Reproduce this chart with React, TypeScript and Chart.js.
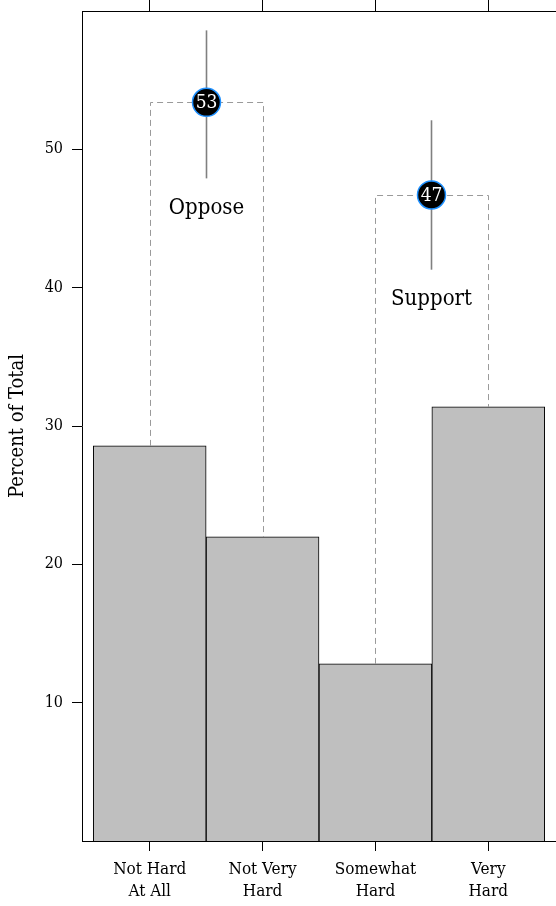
import React, { useEffect, useRef } from "react";
import { Chart, registerables } from "chart.js";

Chart.register(...registerables);

// Response categories and the share of respondents in each (percent)
const categories: string[][] = [
  ["Not Hard", "At All"],
  ["Not Very", "Hard"],
  ["Somewhat", "Hard"],
  ["Very", "Hard"],
];
const percentValues = [28.56, 21.98, 12.8, 31.38];

// Grouped summary: which categories each group spans, its estimate and interval
const groupLabels = ["Oppose", "Support"];
const groupSpans = [
  [0, 1],
  [2, 3],
];
const groupValues = [53.4, 46.7];
const groupLow = [47.9, 41.3];
const groupHigh = [58.6, 52.1];

const yTicks = [10, 20, 30, 40, 50];
const xTickPositions = [1, 2, 3, 4];

const FONT = "'DejaVu Serif Condensed', 'DejaVu Serif', serif";

const groupPlugin = {
  id: "groupSummary",
  afterDatasetsDraw(chart: any) {
    const ctx = chart.ctx;
    const x = chart.scales.x;
    const y = chart.scales.y;
    ctx.save();
    groupSpans.forEach((span, g) => {
      const [a, b] = span;
      const xL = Math.round(x.getPixelForValue(a + 1));
      const xR = Math.round(x.getPixelForValue(b + 1));
      const yTop = y.getPixelForValue(groupValues[g]);
      const yA = y.getPixelForValue(percentValues[a]);
      const yB = y.getPixelForValue(percentValues[b]);

      // dashed bracket joining the two categories
      ctx.beginPath();
      ctx.setLineDash([6, 4]);
      ctx.strokeStyle = "#9a9a9a";
      ctx.lineWidth = 1;
      ctx.moveTo(xL + 0.5, yA);
      ctx.lineTo(xL + 0.5, Math.round(yTop) + 0.5);
      ctx.lineTo(xR + 0.5, Math.round(yTop) + 0.5);
      ctx.lineTo(xR + 0.5, yB);
      ctx.stroke();
      ctx.setLineDash([]);

      const cx = (xL + xR) / 2;
      // interval line
      ctx.beginPath();
      ctx.strokeStyle = "#808080";
      ctx.lineWidth = 1.6;
      ctx.moveTo(cx, y.getPixelForValue(groupHigh[g]));
      ctx.lineTo(cx, y.getPixelForValue(groupLow[g]));
      ctx.stroke();

      // estimate marker
      ctx.beginPath();
      ctx.arc(cx, yTop, 14, 0, Math.PI * 2);
      ctx.fillStyle = "#000000";
      ctx.fill();
      ctx.strokeStyle = "#1e90ff";
      ctx.lineWidth = 1.5;
      ctx.stroke();
      ctx.fillStyle = "#ffffff";
      ctx.font = `19px ${FONT}`;
      ctx.textAlign = "center";
      ctx.textBaseline = "middle";
      ctx.fillText(String(Math.round(groupValues[g])), cx, yTop + 1);

      // group name
      ctx.fillStyle = "#000000";
      ctx.font = `22px ${FONT}`;
      ctx.fillText(groupLabels[g], cx, y.getPixelForValue(groupLow[g]) + 30);
    });
    ctx.restore();
  },
};

export default function App() {
  const ref = useRef<HTMLCanvasElement>(null);

  useEffect(() => {
    if (!ref.current) return;
    const chart = new Chart(ref.current, {
      type: "bar",
      data: {
        datasets: [
          {
            data: percentValues.map((v, i) => ({ x: i + 1, y: v })),
            backgroundColor: "#bfbfbf",
            borderColor: "#000000",
            borderWidth: 1,
            barPercentage: 1,
            categoryPercentage: 1,
          },
        ],
      },
      options: {
        animation: false,
        responsive: false,
        layout: { padding: 0 },
        plugins: {
          legend: { display: false },
          tooltip: { enabled: false },
        },
        scales: {
          x: {
            type: "linear",
            position: "bottom",
            min: 0.4,
            max: 4.6,
            offset: false,
            afterBuildTicks: (s: any) => {
              s.ticks = xTickPositions.map((v) => ({ value: v }));
            },
            afterFit: (s: any) => {
              s.height = 65;
              s.paddingLeft = 0;
              s.paddingRight = 0;
            },
            grid: {
              offset: false,
              drawOnChartArea: false,
              color: "#000000",
              tickLength: 10,
            },
            border: { display: true, color: "#000000" },
            ticks: {
              color: "#000000",
              padding: 8,
              maxRotation: 0,
              autoSkip: false,
              font: { family: FONT, size: 17, lineHeight: "22px" },
              callback: (v: any) => categories[Math.round(Number(v)) - 1] ?? "",
            },
          },
          xTop: {
            type: "linear",
            position: "top",
            min: 0.4,
            max: 4.6,
            offset: false,
            afterBuildTicks: (s: any) => {
              s.ticks = xTickPositions.map((v) => ({ value: v }));
            },
            afterFit: (s: any) => {
              s.height = 11;
              s.paddingLeft = 0;
              s.paddingRight = 0;
            },
            grid: {
              offset: false,
              drawOnChartArea: false,
              color: "#000000",
              tickLength: 11,
            },
            border: { display: true, color: "#000000" },
            ticks: { callback: () => "", padding: 0 },
          },
          y: {
            type: "linear",
            min: 0,
            max: 60,
            afterBuildTicks: (s: any) => {
              s.ticks = yTicks.map((v) => ({ value: v }));
            },
            afterFit: (s: any) => {
              s.width = 82;
              s.paddingTop = 0;
              s.paddingBottom = 0;
            },
            grid: {
              drawOnChartArea: false,
              color: "#000000",
              tickLength: 10,
            },
            border: { display: true, color: "#000000" },
            ticks: {
              color: "#000000",
              padding: 9,
              font: { family: FONT, size: 16 },
            },
            title: {
              display: true,
              text: "Percent of Total",
              color: "#000000",
              font: { family: FONT, size: 20 },
              padding: { top: 6, bottom: 0 },
            },
          },
        },
      },
      plugins: [groupPlugin],
    });
    return () => chart.destroy();
  }, []);

  return (
    <div
      style={{
        position: "absolute",
        left: 0,
        top: 0,
        width: 556,
        height: 906,
        overflow: "hidden",
        background: "#ffffff",
      }}
    >
      <canvas ref={ref} width={556} height={906} style={{ width: 556, height: 906 }} />
    </div>
  );
}
